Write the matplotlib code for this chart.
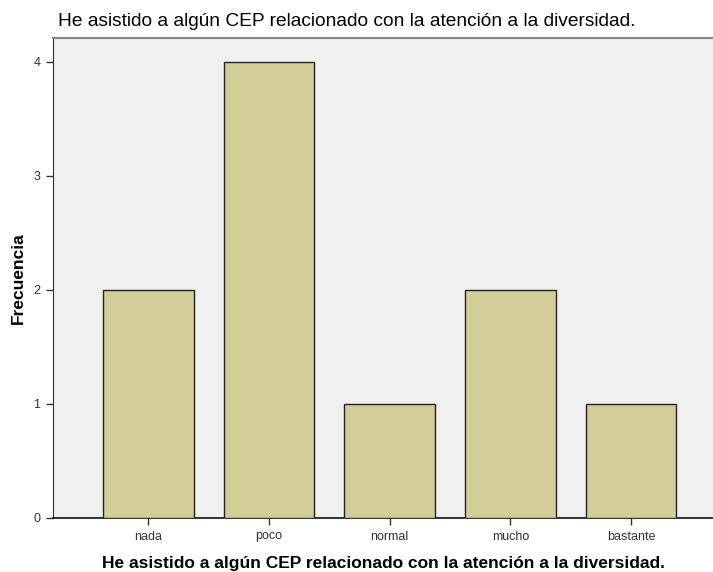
import matplotlib
matplotlib.use('Agg')
import matplotlib.pyplot as plt

categories = ['nada', 'poco', 'normal', 'mucho', 'bastante']
counts = [2, 4, 1, 2, 1]
yticks = [0, 1, 2, 3, 4]
title = 'He asistido a algún CEP relacionado con la atención a la diversidad.'

plt.rcParams['font.family'] = ['Liberation Sans', 'DejaVu Sans']

fig = plt.figure(figsize=(7.13, 5.72), dpi=100)
ax = fig.add_axes([53 / 713, 54 / 572, 1 - 53 / 713, 480 / 572])
ax.set_facecolor('#F0F0F0')

ax.bar(range(len(categories)), counts, width=0.75, color='#D3CE97',
       edgecolor='#222222', linewidth=1.0, zorder=3)

ax.set_xlim(-0.79, 4.68)
ax.set_ylim(0, 4.21)
ax.set_xticks(range(len(categories)))
ax.set_xticklabels(categories, fontsize=9, color='#333333')
ax.set_yticks(yticks)
ax.set_yticklabels([str(v) for v in yticks], fontsize=9, color='#333333')
ax.tick_params(axis='both', direction='out', length=5, width=1, color='#333333', pad=4)

ax.spines['right'].set_visible(False)
ax.spines['top'].set_color('#888888')
ax.spines['top'].set_linewidth(1.5)
ax.spines['left'].set_color('#333333')
ax.spines['bottom'].set_color('#111111')
ax.spines['bottom'].set_linewidth(1.2)

ax.set_xlabel(title, fontsize=12.5, fontweight='bold', labelpad=10)
fig.text(18 / 713, 1 - 278 / 572, 'Frecuencia', fontsize=12.5, fontweight='bold',
         rotation=90, ha='center', va='center')
fig.text(58 / 713, 1 - 21 / 572, title, fontsize=13.8, ha='left', va='center')

fig.savefig('out.png', dpi=100)
